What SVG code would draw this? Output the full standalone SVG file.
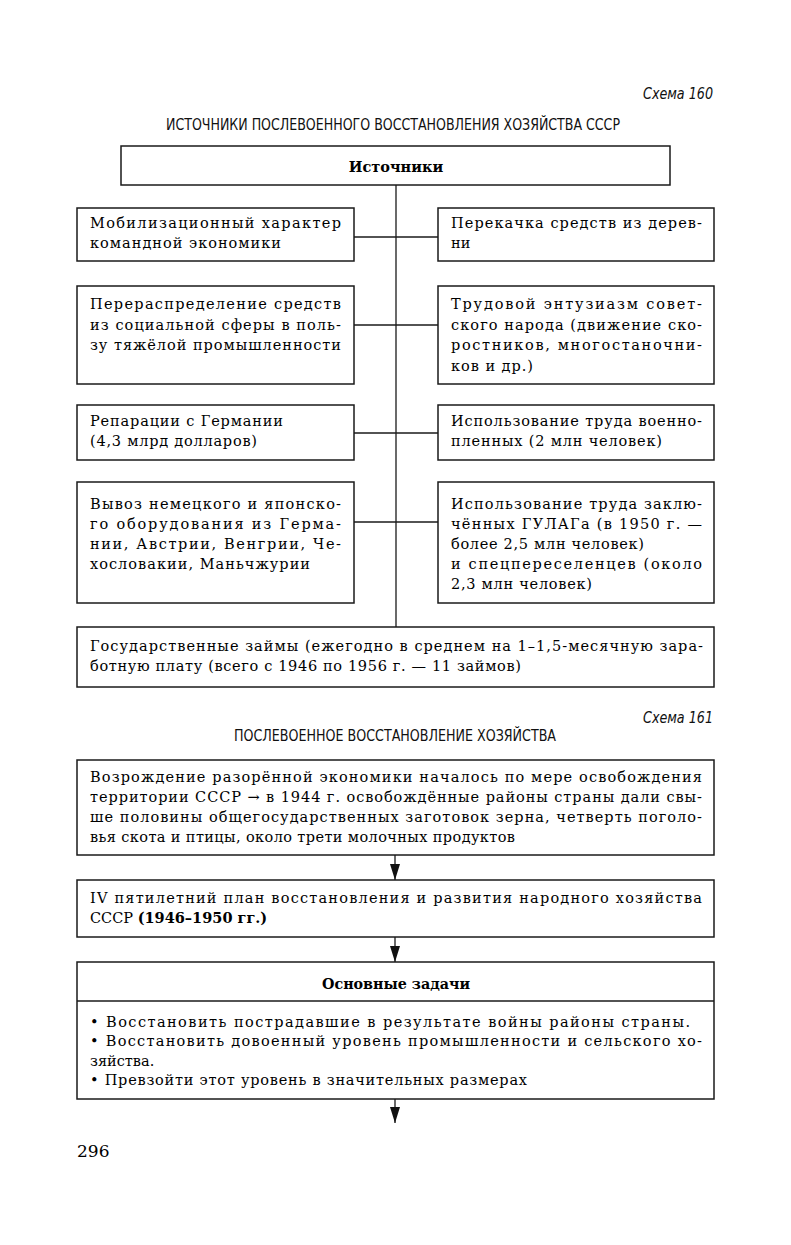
<svg xmlns="http://www.w3.org/2000/svg" width="791" height="1245" viewBox="0 0 791 1245">
<style>
.bg{fill:#fff}
.box{fill:#fff;stroke:#1a1a1a;stroke-width:1.5}
.ln{stroke:#1a1a1a;stroke-width:1.3;fill:none}
.t{font-family:"DejaVu Serif","Liberation Serif",serif;font-size:14.5px;fill:#000}
.b{font-weight:bold}
.cap{font-family:"DejaVu Sans Condensed","Liberation Sans Narrow","Open Sans",sans-serif;font-size:15px;fill:#111}
.it{font-style:italic}
</style>
<defs>
<marker id="ah" markerWidth="16" markerHeight="10" refX="16" refY="5" orient="auto" markerUnits="userSpaceOnUse" viewBox="0 0 16 10">
<path d="M0,0 L16,5 L0,10 Z" fill="#111"/>
</marker>
</defs>
<rect class="bg" x="0" y="0" width="791" height="1245"/>

<text class="cap it" x="713" y="99" text-anchor="end" textLength="70" lengthAdjust="spacingAndGlyphs">Схема 160</text>
<text class="cap" x="393" y="130" text-anchor="middle" textLength="454" lengthAdjust="spacingAndGlyphs">ИСТОЧНИКИ ПОСЛЕВОЕННОГО ВОССТАНОВЛЕНИЯ ХОЗЯЙСТВА СССР</text>

<g id="connectors">
<line class="ln" x1="396" y1="185" x2="396" y2="627"/>
<line class="ln" x1="354" y1="237" x2="438" y2="237"/>
<line class="ln" x1="354" y1="325" x2="438" y2="325"/>
<line class="ln" x1="354" y1="433" x2="438" y2="433"/>
<line class="ln" x1="354" y1="522" x2="438" y2="522"/>
<line class="ln" x1="395" y1="855" x2="395" y2="880" marker-end="url(#ah)"/>
<line class="ln" x1="395" y1="937" x2="395" y2="962" marker-end="url(#ah)"/>
<line class="ln" x1="395" y1="1099" x2="395" y2="1123" marker-end="url(#ah)"/>
</g>

<g id="n-sources">
<rect class="box" x="121" y="146" width="549" height="39"/>
<text class="t b" x="396" y="172" text-anchor="middle">Источники</text>
</g>

<g id="n-mobil">
<rect class="box" x="77" y="208" width="277" height="53"/>
<text class="t" x="90" y="228" textLength="251" lengthAdjust="spacing">Мобилизационный характер</text>
<text class="t" x="90" y="248" textLength="191" lengthAdjust="spacing">командной экономики</text>
</g>

<g id="n-perekachka">
<rect class="box" x="438" y="208" width="276" height="53"/>
<text class="t" x="451" y="228" textLength="251" lengthAdjust="spacing">Перекачка средств из дерев-</text>
<text class="t" x="451" y="248">ни</text>
</g>

<g id="n-pereraspr">
<rect class="box" x="77" y="286" width="277" height="98"/>
<text class="t" x="90" y="309" textLength="251" lengthAdjust="spacing">Перераспределение средств</text>
<text class="t" x="90" y="330" textLength="251" lengthAdjust="spacing">из социальной сферы в поль-</text>
<text class="t" x="90" y="350" textLength="251" lengthAdjust="spacing">зу тяжёлой промышленности</text>
</g>

<g id="n-trud">
<rect class="box" x="438" y="286" width="276" height="98"/>
<text class="t" x="451" y="309" textLength="251" lengthAdjust="spacing">Трудовой энтузиазм совет-</text>
<text class="t" x="451" y="330" textLength="251" lengthAdjust="spacing">ского народа (движение ско-</text>
<text class="t" x="451" y="350" textLength="251" lengthAdjust="spacing">ростников,  многостаночни-</text>
<text class="t" x="451" y="371" textLength="82" lengthAdjust="spacing">ков и др.)</text>
</g>

<g id="n-reparacii">
<rect class="box" x="77" y="405" width="277" height="55"/>
<text class="t" x="90" y="426" textLength="193" lengthAdjust="spacing">Репарации с Германии</text>
<text class="t" x="90" y="446" textLength="167" lengthAdjust="spacing">(4,3 млрд долларов)</text>
</g>

<g id="n-voennopl">
<rect class="box" x="438" y="405" width="276" height="55"/>
<text class="t" x="451" y="426" textLength="251" lengthAdjust="spacing">Использование труда военно-</text>
<text class="t" x="451" y="446" textLength="211" lengthAdjust="spacing">пленных (2 млн человек)</text>
</g>

<g id="n-vyvoz">
<rect class="box" x="77" y="482" width="277" height="121"/>
<text class="t" x="90" y="509" textLength="251" lengthAdjust="spacing">Вывоз немецкого и японско-</text>
<text class="t" x="90" y="529" textLength="251" lengthAdjust="spacing">го оборудования из Герма-</text>
<text class="t" x="90" y="549" textLength="251" lengthAdjust="spacing">нии, Австрии, Венгрии, Че-</text>
<text class="t" x="90" y="569" textLength="220" lengthAdjust="spacing">хословакии, Маньчжурии</text>
</g>

<g id="n-gulag">
<rect class="box" x="438" y="482" width="276" height="121"/>
<text class="t" x="451" y="509" textLength="251" lengthAdjust="spacing">Использование труда заклю-</text>
<text class="t" x="451" y="529" textLength="251" lengthAdjust="spacing">чённых ГУЛАГа (в 1950 г. —</text>
<text class="t" x="451" y="549" textLength="193" lengthAdjust="spacing">более 2,5 млн человек)</text>
<text class="t" x="451" y="569" textLength="251" lengthAdjust="spacing">и спецпереселенцев (около</text>
<text class="t" x="451" y="589" textLength="141" lengthAdjust="spacing">2,3 млн человек)</text>
</g>

<g id="n-zaymy">
<rect class="box" x="77" y="627" width="637" height="60"/>
<text class="t" x="90" y="651" textLength="613" lengthAdjust="spacing">Государственные займы (ежегодно в среднем на 1–1,5-месячную зара-</text>
<text class="t" x="90" y="671" textLength="431" lengthAdjust="spacing">ботную плату (всего с 1946 по 1956 г. — 11 займов)</text>
</g>

<text class="cap it" x="713" y="723" text-anchor="end" textLength="70" lengthAdjust="spacingAndGlyphs">Схема 161</text>
<text class="cap" x="395" y="741" text-anchor="middle" textLength="322" lengthAdjust="spacingAndGlyphs">ПОСЛЕВОЕННОЕ ВОССТАНОВЛЕНИЕ ХОЗЯЙСТВА</text>

<g id="n-vozrozhdenie">
<rect class="box" x="77" y="760" width="637" height="95"/>
<text class="t" x="90" y="782" textLength="612" lengthAdjust="spacing">Возрождение разорённой экономики началось по мере освобождения</text>
<text class="t" x="90" y="802" textLength="612" lengthAdjust="spacing">территории СССР → в 1944 г. освобождённые районы страны дали свы-</text>
<text class="t" x="90" y="822" textLength="612" lengthAdjust="spacing">ше половины общегосударственных заготовок зерна, четверть поголо-</text>
<text class="t" x="90" y="842" textLength="425" lengthAdjust="spacing">вья скота и птицы, около трети молочных продуктов</text>
</g>

<g id="n-plan">
<rect class="box" x="77" y="880" width="637" height="57"/>
<text class="t" x="90" y="903" textLength="612" lengthAdjust="spacing">IV пятилетний план восстановления и развития народного хозяйства</text>
<text class="t" x="90" y="923">СССР <tspan class="b">(1946–1950 гг.)</tspan></text>
</g>

<g id="n-zadachi">
<rect class="box" x="77" y="962" width="637" height="137"/>
<line class="ln" x1="77" y1="1001" x2="714" y2="1001"/>
<text class="t b" x="396" y="989" text-anchor="middle" textLength="148" lengthAdjust="spacingAndGlyphs">Основные задачи</text>
<text class="t" x="90" y="1027" textLength="600" lengthAdjust="spacing">• Восстановить пострадавшие в результате войны районы страны.</text>
<text class="t" x="90" y="1046" textLength="612" lengthAdjust="spacing">• Восстановить довоенный уровень промышленности и сельского хо-</text>
<text class="t" x="90" y="1066">зяйства.</text>
<text class="t" x="90" y="1085" textLength="437" lengthAdjust="spacing">• Превзойти этот уровень в значительных размерах</text>
</g>

<text class="t" x="77" y="1157" style="font-size:17px">296</text>
</svg>
